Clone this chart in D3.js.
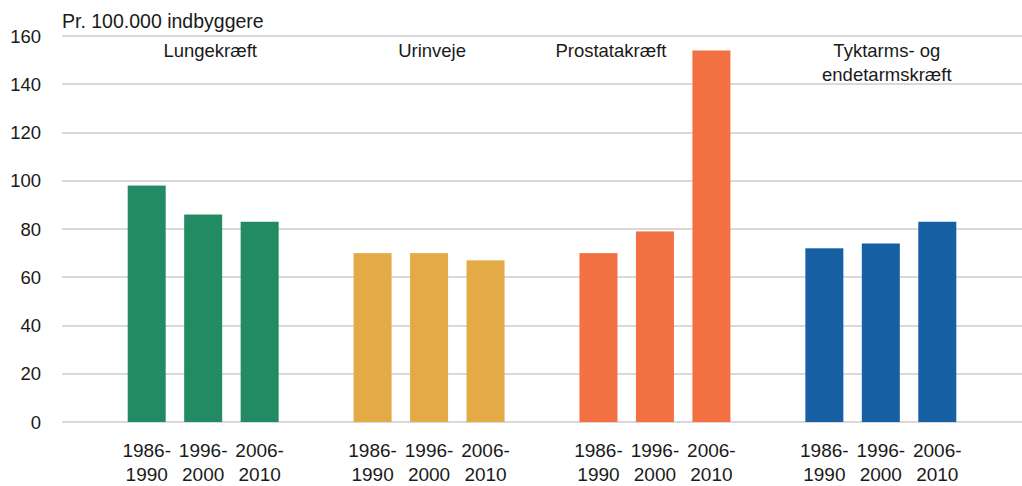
<!DOCTYPE html>
<html lang="da">
<head>
<meta charset="utf-8">
<title>Kræfttilfælde</title>
<script src="https://d3js.org/d3.v7.min.js"></script>
<style>
    body { margin: 0; padding: 0; background: white; }
    svg { display: block; background: white; }
    text { font-family: "Liberation Sans", Arial, sans-serif; fill: #1a1a1a; }
    .grid line { stroke: #d9d9d9; stroke-width: 2px; shape-rendering: crispEdges; }
</style>
</head>
<body>
<div id="chart"></div>
<script>
// data
var groups = ["Lungekræft", "Urinveje", "Prostatakræft", "Tyktarms- og\nendetarmskræft"];
var periods = ["1986-\n1990", "1996-\n2000", "2006-\n2010"];
var lunge = [98, 86, 83];
var urinveje = [70, 70, 67];
var prostata = [70, 79, 154];
var tyktarm = [72, 74, 83];
var yTicks = [0, 20, 40, 60, 80, 100, 120, 140, 160];
var colors = ["#238b63", "#e4aa45", "#f37043", "#175fa3"];
var yTitle = "Pr. 100.000 indbyggere";

var series = [lunge, urinveje, prostata, tyktarm];

var width = 1022, height = 486;
var margin = {left: 62, right: 0, top: 36, bottom: 64};

var svg = d3.select("#chart").append("svg")
    .attr("width", width)
    .attr("height", height);

// slots: one empty slot before each group, and one at the end
var slots = [];
var rows = [];
groups.forEach(function(g, gi) {
    slots.push("gap" + gi);
    periods.forEach(function(p, pi) {
        var key = gi + "_" + pi;
        slots.push(key);
        rows.push({key: key, group: gi, period: p, value: series[gi][pi]});
    });
});
slots.push("gapEnd");

var x = d3.scaleBand()
    .domain(slots)
    .range([margin.left, width - margin.right])
    .paddingInner(0.327)
    .paddingOuter(0.1635);

var y = d3.scaleLinear()
    .domain([0, 160])
    .range([height - margin.bottom, margin.top]);

// gridlines
svg.append("g").attr("class", "grid")
    .selectAll("line")
    .data(yTicks)
    .enter().append("line")
    .attr("x1", margin.left)
    .attr("x2", width - margin.right)
    .attr("y1", function(d) { return y(d); })
    .attr("y2", function(d) { return y(d); });

// y tick labels
svg.append("g")
    .selectAll("text")
    .data(yTicks)
    .enter().append("text")
    .attr("x", 41)
    .attr("y", function(d) { return y(d); })
    .attr("dy", "0.36em")
    .attr("text-anchor", "end")
    .style("font-size", "18.5px")
    .text(function(d) { return d; });

svg.append("text")
    .attr("x", margin.left)
    .attr("y", 28)
    .style("font-size", "19.5px")
    .text(yTitle);

// bars
svg.append("g")
    .selectAll("rect")
    .data(rows)
    .enter().append("rect")
    .attr("x", function(d) { return x(d.key); })
    .attr("width", x.bandwidth())
    .attr("y", function(d) { return y(d.value); })
    .attr("height", function(d) { return y(0) - y(d.value); })
    .attr("fill", function(d) { return colors[d.group]; });

// period labels under bars
var xl = svg.append("g")
    .selectAll("text")
    .data(rows)
    .enter().append("text")
    .attr("x", function(d) { return x(d.key) + x.bandwidth() / 2; })
    .attr("y", 457)
    .attr("text-anchor", "middle")
    .style("font-size", "19px");
xl.each(function(d) {
    var t = d3.select(this);
    d.period.split("\n").forEach(function(line, i) {
        t.append("tspan")
            .attr("x", x(d.key) + x.bandwidth() / 2)
            .attr("dy", i === 0 ? 0 : 24)
            .text(line);
    });
});

// group labels (shifted a little so they do not hit the bars)
var labelShift = [7, 3, -44, 6];
svg.append("g")
    .selectAll("text")
    .data(groups)
    .enter().append("text")
    .attr("text-anchor", "middle")
    .attr("y", 57)
    .style("font-size", "18.5px")
    .each(function(g, gi) {
        var cx = x(gi + "_1") + x.bandwidth() / 2 + labelShift[gi];
        var t = d3.select(this);
        g.split("\n").forEach(function(line, i) {
            t.append("tspan")
                .attr("x", cx)
                .attr("dy", i === 0 ? 0 : 24)
                .text(line);
        });
    });
</script>
</body>
</html>
